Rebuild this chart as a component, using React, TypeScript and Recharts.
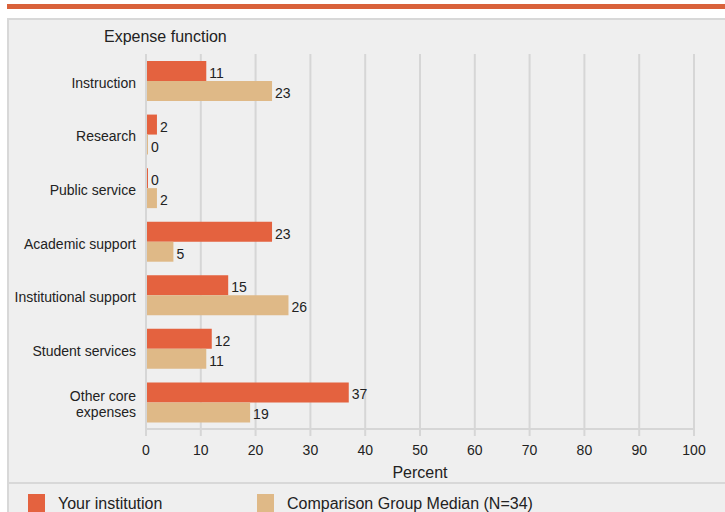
import { BarChart, Bar, XAxis, YAxis, CartesianGrid, LabelList } from 'recharts';

const categories = [
  'Instruction',
  'Research',
  'Public service',
  'Academic support',
  'Institutional support',
  'Student services',
  'Other core\nexpenses',
];
const yourInstitution = [11, 2, 0, 23, 15, 12, 37];
const comparisonMedian = [23, 0, 2, 5, 26, 11, 19];
const xTicks = [0, 10, 20, 30, 40, 50, 60, 70, 80, 90, 100];

const seriesNames = ['Your institution', 'Comparison Group Median (N=34)'];
const RED = '#e4623f';
const TAN = '#dfb987';
const GRID = '#d6d6d6';
const FONT = '"Liberation Sans", Arial, sans-serif';

const data = categories.map((name, i) => ({
  name,
  yours: yourInstitution[i],
  median: comparisonMedian[i],
}));

const CategoryTick = ({ x, y, payload }: any) => {
  const lines = String(payload.value).split('\n');
  const lineHeight = 16;
  const startY = y + 2 - ((lines.length - 1) * lineHeight) / 2;
  return (
    <text x={x - 2} y={startY} textAnchor="end" fontSize={14} fill="#222" fontFamily={FONT} dominantBaseline="central">
      {lines.map((l, i) => (
        <tspan key={i} x={x - 2} y={startY + i * lineHeight}>
          {l}
        </tspan>
      ))}
    </text>
  );
};

export default function App() {
  return (
    <div
      style={{
        position: 'fixed',
        top: 0,
        left: 0,
        width: 725,
        height: 512,
        background: '#fff',
        overflow: 'hidden',
        fontFamily: FONT,
      }}
    >
      <div style={{ position: 'absolute', left: 7, top: 4, width: 718, height: 5, background: '#d9623b' }} />
      <div
        style={{
          position: 'absolute',
          left: 7,
          top: 18,
          width: 760,
          height: 600,
          background: '#efefef',
          borderLeft: '2px solid #d8d8d8',
          borderTop: '2px solid #d8d8d8',
        }}
      />
      <div style={{ position: 'absolute', left: 104, top: 28, fontSize: 16, color: '#222' }}>Expense function</div>

      <div style={{ position: 'absolute', left: 0, top: 0 }}>
        <BarChart
          width={725}
          height={480}
          data={data}
          layout="vertical"
          margin={{ top: 54, right: 31, left: 0, bottom: 0 }}
          barGap={0}
          barSize={20}
        >
          <CartesianGrid horizontal={false} stroke={GRID} strokeWidth={2} />
          <XAxis
            type="number"
            domain={[0, 100]}
            ticks={xTicks}
            interval={0}
            height={51}
            tickSize={7}
            tickMargin={9}
            axisLine={{ stroke: GRID, strokeWidth: 2 }}
            tickLine={{ stroke: GRID, strokeWidth: 2 }}
            tick={{ fontSize: 14, fill: '#222', fontFamily: FONT }}
            label={{ value: 'Percent', position: 'insideBottom', offset: 2, fontSize: 16, fill: '#222', fontFamily: FONT }}
          />
          <XAxis
            xAxisId="top"
            orientation="top"
            type="number"
            domain={[0, 100]}
            height={0}
            tick={false}
            tickLine={false}
            axisLine={{ stroke: GRID, strokeWidth: 2 }}
          />
          <YAxis
            type="category"
            dataKey="name"
            width={146}
            tickLine={false}
            axisLine={{ stroke: GRID, strokeWidth: 2 }}
            tick={<CategoryTick />}
            interval={0}
          />
          <Bar dataKey="yours" name={seriesNames[0]} fill={RED} minPointSize={2} isAnimationActive={false}>
            <LabelList dataKey="yours" position="right" offset={3} dy={2} fontSize={14} fill="#222" fontFamily={FONT} />
          </Bar>
          <Bar dataKey="median" name={seriesNames[1]} fill={TAN} minPointSize={2} isAnimationActive={false}>
            <LabelList dataKey="median" position="right" offset={3} dy={2} fontSize={14} fill="#222" fontFamily={FONT} />
          </Bar>
        </BarChart>
      </div>

      <div style={{ position: 'absolute', left: 7, top: 482, width: 718, height: 2, background: '#d8d8d8' }} />
      {[
        { name: seriesNames[0], color: RED, left: 28, textLeft: 58 },
        { name: seriesNames[1], color: TAN, left: 257, textLeft: 287 },
      ].map((item) => (
        <div key={item.name}>
          <div style={{ position: 'absolute', left: item.left, top: 494, width: 17, height: 20, background: item.color }} />
          <div style={{ position: 'absolute', left: item.textLeft, top: 495, fontSize: 16, color: '#222', whiteSpace: 'nowrap' }}>
            {item.name}
          </div>
        </div>
      ))}
    </div>
  );
}
